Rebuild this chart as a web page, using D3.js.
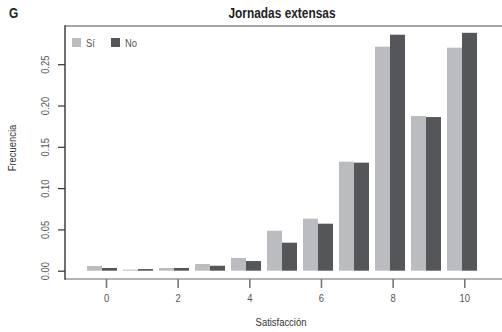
<!DOCTYPE html>
<html>
<head>
<meta charset="utf-8">
<script src="https://cdn.jsdelivr.net/npm/d3@7"></script>
<style>
  html, body { margin: 0; padding: 0; background: #fff; }
  svg { display: block; font-family: "Liberation Sans", Arial, sans-serif; }
</style>
</head>
<body>
<svg id="chart" width="502" height="332"></svg>
<script>
// Satisfaction scores 0..10
const categories = ["0","1","2","3","4","5","6","7","8","9","10"];
const seriesNames = ["Sí", "No"];
// Relative frequency per score, by whether the person works long hours
const valuesSi = [0.0057, 0.0012, 0.0033, 0.0081, 0.0154, 0.0484, 0.0630, 0.1320, 0.2712, 0.1873, 0.2700];
const valuesNo = [0.0033, 0.0020, 0.0033, 0.0060, 0.0117, 0.0339, 0.0569, 0.1308, 0.2857, 0.1860, 0.2880];
const yTicks = [0, 0.05, 0.10, 0.15, 0.20, 0.25];
const xTicks = [0, 2, 4, 6, 8, 10];

const colors = { "Sí": "#bbbcc0", "No": "#555659" };
const narrow = 0.82;   // horizontal squeeze for a condensed look

const svg = d3.select("#chart");

const plot = { left: 65, top: 26, right: 502, bottom: 279 };
const baseline = 270.7;

const x = d3.scaleBand().domain(categories).range([84, 480])
  .paddingInner(1 / 6).paddingOuter(1 / 12);
const xs = d3.scaleBand().domain(seriesNames).range([0, x.bandwidth()]);
const y = d3.scaleLinear().domain([0, 0.25]).range([baseline, 64.2]);
const xAxisScale = d3.scaleLinear().domain([0, 10]).range([106, 464.3]);

const rows = categories.map((c, i) => ({ cat: c, vals: [
  { key: "Sí", v: valuesSi[i] },
  { key: "No", v: valuesNo[i] }
]}));

// text placed at (tx, ty), optionally rotated, squeezed along its own baseline
function placeText(sel, tx, ty, rot) {
  sel.attr("x", 0).attr("y", 0)
    .attr("transform", `translate(${tx},${ty})${rot ? ` rotate(${rot})` : ""} scale(${narrow},1)`);
  return sel;
}

// bars
const groups = svg.append("g").selectAll("g").data(rows).join("g")
  .attr("transform", d => `translate(${x(d.cat)},0)`);
groups.selectAll("rect").data(d => d.vals).join("rect")
  .attr("x", d => xs(d.key))
  .attr("width", xs.bandwidth())
  .attr("y", d => y(d.v))
  .attr("height", d => y(0) - y(d.v))
  .attr("fill", d => colors[d.key]);

// frame lines
svg.append("line").attr("x1", plot.left).attr("x2", plot.right)
  .attr("y1", plot.top).attr("y2", plot.top)
  .attr("stroke", "#8a8a8a").attr("stroke-width", 1.6);
svg.append("line").attr("x1", plot.left).attr("x2", plot.right)
  .attr("y1", plot.bottom).attr("y2", plot.bottom)
  .attr("stroke", "#9a9a9a").attr("stroke-width", 1.6);
svg.append("line").attr("x1", plot.left).attr("x2", plot.left)
  .attr("y1", plot.top - 0.8).attr("y2", plot.bottom + 0.8)
  .attr("stroke", "#333").attr("stroke-width", 1.4);

// y axis
const yAxis = d3.axisLeft(y).tickValues(yTicks).tickFormat(d3.format(".2f"))
  .tickSize(7).tickPadding(0);
const gy = svg.append("g").attr("transform", `translate(${plot.left},0)`).call(yAxis);
gy.select(".domain").remove();
gy.selectAll(".tick line").attr("stroke", "#333").attr("stroke-width", 1.2);
gy.selectAll(".tick text").each(function () {
  placeText(d3.select(this), -20, 0, -90)
    .attr("dy", "0.35em")
    .attr("text-anchor", "middle")
    .attr("fill", "#555").style("font-size", "11.5px");
});

// x axis
const xAxis = d3.axisBottom(xAxisScale).tickValues(xTicks).tickFormat(d3.format("d"))
  .tickSize(9).tickPadding(5);
const gx = svg.append("g").attr("transform", `translate(0,${plot.bottom})`).call(xAxis);
gx.select(".domain").remove();
gx.selectAll(".tick line").attr("stroke", "#777").attr("stroke-width", 1.6);
gx.selectAll(".tick text").each(function () {
  placeText(d3.select(this), 0, 23)
    .attr("dy", null)
    .attr("fill", "#555").style("font-size", "11.5px");
});

// titles
placeText(svg.append("text"), 282, 18)
  .attr("text-anchor", "middle")
  .attr("fill", "#222").style("font-size", "14.5px").style("font-weight", "bold")
  .text("Jornadas extensas");
placeText(svg.append("text"), 9, 18)
  .attr("fill", "#222").style("font-size", "14.5px").style("font-weight", "bold")
  .text("G");
placeText(svg.append("text"), 281, 326)
  .attr("text-anchor", "middle")
  .attr("fill", "#333").style("font-size", "11.5px")
  .text("Satisfacción");
placeText(svg.append("text"), 16, 148, -90)
  .attr("text-anchor", "middle")
  .attr("fill", "#333").style("font-size", "11.5px")
  .text("Frecuencia");

// legend
const legend = svg.append("g").selectAll("g").data(seriesNames).join("g")
  .attr("transform", (d, i) => `translate(${72 + i * 39},38)`);
legend.append("rect").attr("width", 9).attr("height", 9)
  .attr("fill", d => colors[d]);
legend.append("text").each(function () {
  placeText(d3.select(this), 14, 8.5);
}).attr("fill", "#555").style("font-size", "11.5px")
  .text(d => d);
</script>
</body>
</html>
